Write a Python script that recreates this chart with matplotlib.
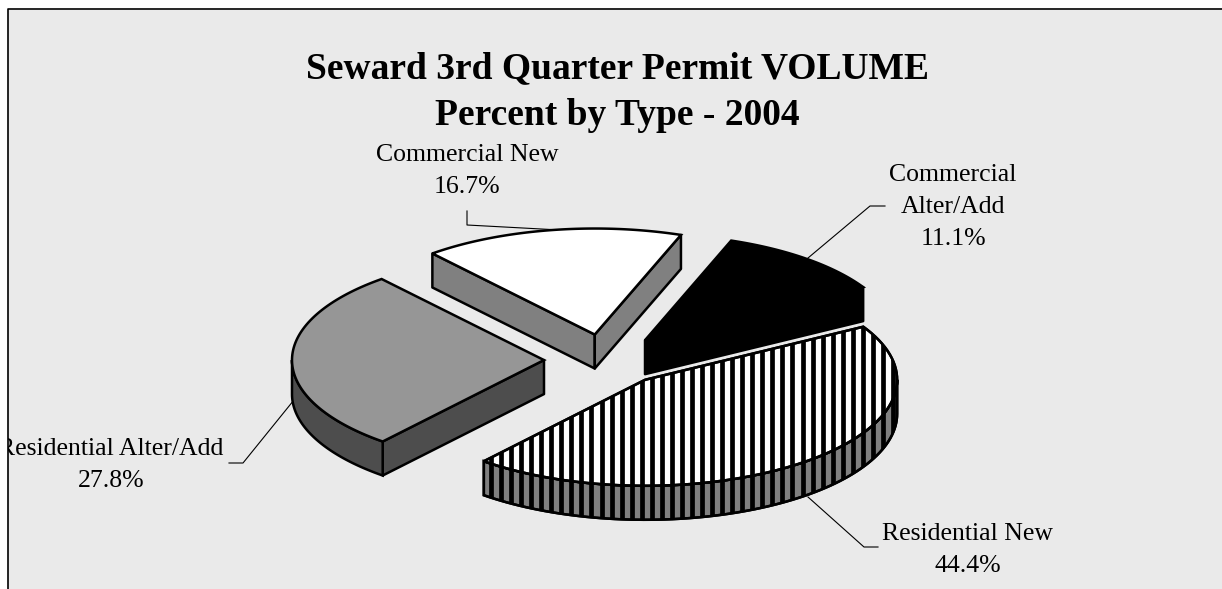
import numpy as np
import matplotlib
matplotlib.use('Agg')
import matplotlib.pyplot as plt
from matplotlib.patches import Polygon, Rectangle

labels = ['Commercial\nAlter/Add', 'Residential New', 'Residential Alter/Add', 'Commercial New']
percent = [11.1, 44.4, 27.8, 16.7]
top_colors = ['#000000', '#ffffff', '#969696', '#ffffff']
side_colors = ['#000000', '#808080', '#4d4d4d', '#808080']

# pie geometry in pixels, angles clockwise from the top
cx, cy = 605.5, 360
rx, ry = 252, 106
depth = 34
explode = 61.5
start = 20

plt.rcParams['font.family'] = ['Liberation Serif', 'DejaVu Serif']

fig = plt.figure(figsize=(12.22, 5.89), dpi=100, facecolor='white')
ax = fig.add_axes([0, 0, 1, 1])
ax.set_xlim(0, 1222)
ax.set_ylim(589, 0)
ax.axis('off')

bg = Rectangle((8, 10), 1214, 579, facecolor='#eaeaea', edgecolor='none', zorder=0)
ax.add_patch(bg)
ax.plot([7.5, 7.5, 1222], [589, 9, 9], color='black', lw=1.2, zorder=1, solid_capstyle='butt')


def rim(a0, a1, x0, y0):
    t = np.radians(np.linspace(a0, a1, 80))
    return x0 + rx * np.sin(t), y0 - ry * np.cos(t)


def stripes(patch, z):
    xs = np.arange(300, 920, 10.05)
    ax.vlines(xs, 200, 540, color='black', lw=3.4, zorder=z, clip_path=patch)


# angles of each slice from the values
fracs = np.array(percent) / sum(percent)
edges = start + 360 * np.concatenate([[0], np.cumsum(fracs)])
# back slices first, the big front one goes last
order = [3, 0, 2, 1]
for n, i in enumerate(order):
    a0, a1 = edges[i], edges[i + 1]
    mid = np.radians((a0 + a1) / 2)
    x0 = cx + explode * np.sin(mid)
    y0 = cy - explode * (ry / rx) * np.cos(mid)
    z = 2 + n * 3
    striped = i == 1

    # flat cut faces, only those turned towards the viewer
    for a, normal in ((a0, a0 - 90), (a1, a1 + 90)):
        if np.cos(np.radians(normal)) >= 0:
            continue
        xr, yr = rim(a, a, x0, y0)
        q = Polygon([(x0, y0), (xr[0], yr[0]), (xr[0], yr[0] + depth), (x0, y0 + depth)],
                    closed=True, facecolor=side_colors[i], edgecolor='black', lw=1.8,
                    joinstyle='round', zorder=z)
        ax.add_patch(q)

    # outer wall, only the front half of the ellipse shows
    lo = max(a0, 90)
    hi = min(a1, 270)
    if lo < hi:
        xr, yr = rim(lo, hi, x0, y0)
        wall = np.column_stack([np.r_[xr, xr[::-1]], np.r_[yr, yr[::-1] + depth]])
        p = Polygon(wall, closed=True, facecolor=side_colors[i], edgecolor='black', lw=1.8, zorder=z)
        ax.add_patch(p)
        if striped:
            stripes(p, z + 0.2)
            ax.add_patch(Polygon(wall, closed=True, facecolor='none', edgecolor='black', lw=1.8, zorder=z + 0.3))

    # top face
    xr, yr = rim(a0, a1, x0, y0)
    face = np.column_stack([np.r_[x0, xr], np.r_[y0, yr]])
    t = Polygon(face, closed=True, facecolor=top_colors[i], edgecolor='black', lw=1.8, zorder=z + 1)
    ax.add_patch(t)
    if striped:
        stripes(t, z + 1.2)
        ax.add_patch(Polygon(face, closed=True, facecolor='none', edgecolor='black', lw=1.8, zorder=z + 1.3))

ax.text(617, 92, 'Seward 3rd Quarter Permit VOLUME\nPercent by Type - 2004', ha='center', va='center',
        fontsize=27, fontweight='bold', linespacing=1.43, zorder=30)

# data labels and leader lines
label_pos = [(953, 207), (968, 550), (111, 465), (467, 171)]
leaders = [
    ([885, 870, 808], [206, 206, 258]),
    ([878, 864, 808], [547, 547, 497]),
    ([229, 243, 298], [463, 463, 395]),
    ([467, 467, 560], [211, 225, 230]),
]
for i in range(4):
    txt = ax.text(label_pos[i][0], label_pos[i][1], f'{labels[i]}\n{percent[i]:.1f}%', ha='center', va='center',
                  fontsize=18.5, linespacing=1.6, zorder=30)
    # the long left label gets cut by the chart area
    txt.set_clip_path(bg)
    txt.set_clip_on(True)
    ax.plot(leaders[i][0], leaders[i][1], color='black', lw=0.8, zorder=1.5)

fig.savefig('out.png', dpi=100)
